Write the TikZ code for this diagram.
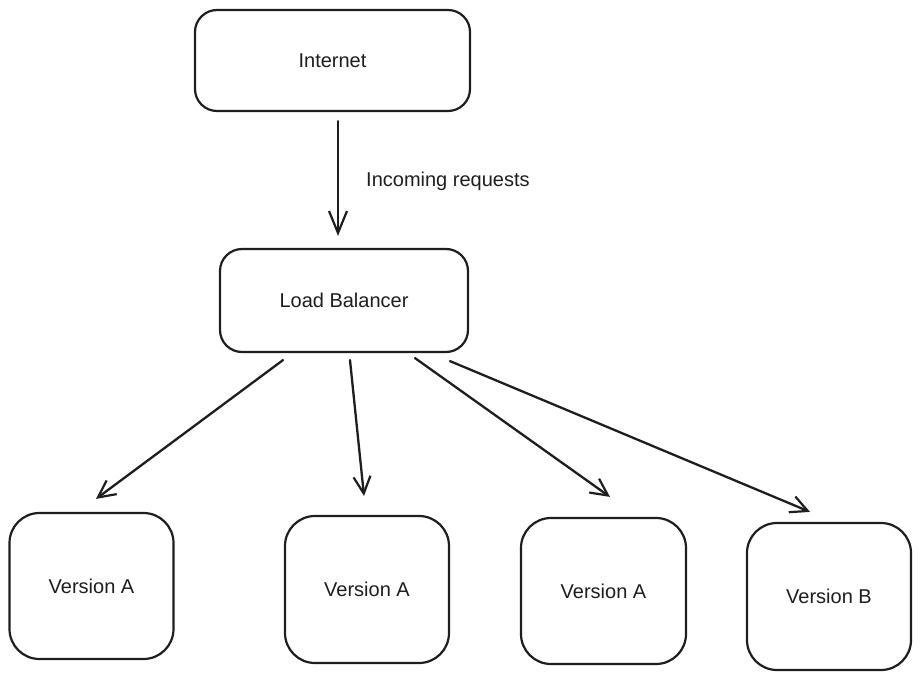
\documentclass[tikz,border=0pt]{standalone}
\usepackage{fontspec}
\setmainfont{Liberation Sans}
\usetikzlibrary{arrows.meta}
\definecolor{ink}{HTML}{1E1E1E}
\begin{document}
\begin{tikzpicture}[x=1pt,y=-1pt,
  box/.style={draw=ink, line width=2.2pt, rounded corners=22pt, fill=white,
    text=ink, font=\fontsize{20}{24}\selectfont, inner sep=0pt},
  vbox/.style={box, rounded corners=30pt, minimum width=164pt, minimum height=146pt},
  arr/.style={draw=ink, line width=2.3pt, line cap=round,
    -{Straight Barb[length=17pt,width=17pt,line width=2.2pt]}},
  lbl/.style={text=ink, font=\fontsize{20}{24}\selectfont, inner sep=0pt}]
\useasboundingbox (0,0) rectangle (921,680);

% top row: source and balancer
\node[box, minimum width=275pt, minimum height=101pt] (inet) at (332.5,60.5) {Internet};
\node[box, minimum width=248pt, minimum height=103pt] (lb) at (344,300.5) {Load Balancer};

% backend versions
\node[vbox] (v1) at (91.5,586) {Version A};
\node[vbox, minimum height=147pt] (v2) at (367,589.5) {Version A};
\node[vbox, minimum width=165pt] (v3) at (603.5,591) {Version A};
\node[vbox, minimum height=147pt] (vb) at (829,596.5) {Version B};

% request flow
\draw[arr, -{Straight Barb[length=22pt,width=18pt,line width=2.2pt]}]
  ([shift={(5.5,9)}]inet.south) -- ([shift={(-6,-12)}]lb.north);
\node[lbl, anchor=west] (req) at (366,181) {Incoming requests};

\draw[arr] ([shift={(-61,7)}]lb.south) -- ([shift={(4.5,-13)}]v1.north);
\draw[arr] ([shift={(6,7)}]lb.south) -- ([shift={(-3,-19)}]v2.north);
\draw[arr] ([shift={(71,5)}]lb.south) -- ([shift={(6.5,-20)}]v3.north);
\draw[arr] ([shift={(106,8)}]lb.south) -- ([shift={(-19,-10)}]vb.north);
\end{tikzpicture}
\end{document}
